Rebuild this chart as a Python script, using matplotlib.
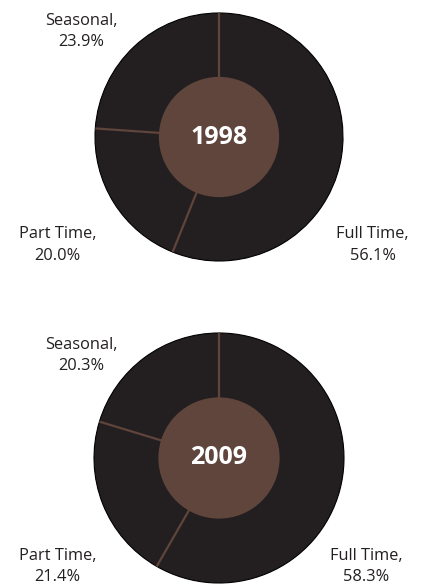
import numpy as np
import matplotlib
matplotlib.use('Agg')
import matplotlib.pyplot as plt
from matplotlib.patches import Circle

plt.rcParams['font.family'] = ['Open Sans', 'DejaVu Sans']

# data
years = ['1998', '2009']
categories = ['Full Time', 'Part Time', 'Seasonal']
shares_1998 = [56.1, 20.0, 23.9]
shares_2009 = [58.3, 21.4, 20.3]

dark = '#231f20'
brown = '#5f453c'

# label anchors (data coords, pie radius 1) for Full Time, Part Time, Seasonal
label_pos = {
    '1998': [(1.24, -0.87), (-1.30, -0.87), (-1.11, 0.85)],
    '2009': [(1.18, -0.87), (-1.29, -0.87), (-1.10, 0.82)],
}

fig = plt.figure(figsize=(4.24, 5.88), dpi=100)
boxes = [[95 / 424, 327 / 588, 248 / 424, 248 / 588],
         [94 / 424, 5 / 588, 250 / 424, 250 / 588]]


def draw_pie(ax, year, shares):
    wedges, _ = ax.pie(shares, startangle=90, counterclock=False,
                       colors=[dark] * len(shares), radius=1,
                       wedgeprops=dict(edgecolor='black', linewidth=0.8))
    # brown separators along each wedge boundary
    for w in wedges:
        a = np.deg2rad(w.theta1)
        ax.plot([0, np.cos(a)], [0, np.sin(a)], color=brown, lw=1.6,
                solid_capstyle='butt', zorder=3)
    ax.add_patch(Circle((0, 0), 0.485, color=brown, zorder=4, lw=0))
    ax.text(0, 0, year, ha='center', va='center', color='white',
            fontsize=18, fontweight='bold', zorder=5)
    for cat, val, (x, y) in zip(categories, shares, label_pos[year]):
        ax.text(x, y, f'{cat},\n{val:.1f}%', ha='center', va='center',
                color=dark, fontsize=11.8, linespacing=1.45, clip_on=False)
    ax.set_xlim(-1, 1)
    ax.set_ylim(-1, 1)
    ax.set_aspect('equal')
    ax.axis('off')


for box, year, shares in zip(boxes, years, [shares_1998, shares_2009]):
    ax = fig.add_axes(box)
    draw_pie(ax, year, shares)

fig.savefig('out.png', dpi=100, facecolor='white')
